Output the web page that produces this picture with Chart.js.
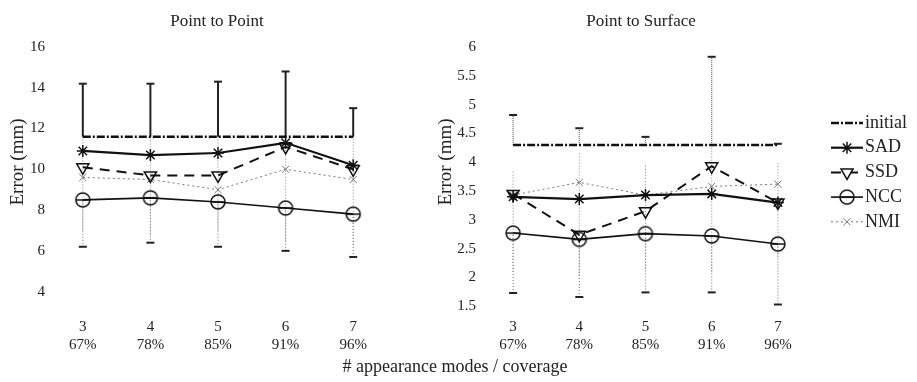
<!DOCTYPE html>
<html>
<head>
<meta charset="utf-8">
<script src="https://cdn.jsdelivr.net/npm/chart.js@4"></script>
<style>
html, body { margin: 0; padding: 0; background: #fff; }
#wrap { position: relative; width: 917px; height: 382px; }
#wrap canvas { position: absolute; left: 0; top: 0; }
</style>
</head>
<body>
<div id="wrap">
  <canvas id="ptpChart" width="917" height="382"></canvas>
  <canvas id="ptsChart" width="917" height="382"></canvas>
</div>
<script>
// categorias del eje x (modos de apariencia / cobertura)
const categories = ["3", "4", "5", "6", "7"];
const coverage = ["67%", "78%", "85%", "91%", "96%"];
const seriesNames = ["initial", "SAD", "SSD", "NCC", "NMI"];

// Point to Point (mm)
const ptpInitial = [11.6, 11.6, 11.6, 11.6, 11.6];
const ptpSAD = [10.9, 10.7, 10.8, 11.3, 10.2];
const ptpSSD = [10.1, 9.7, 9.7, 11.1, 10.0];
const ptpNCC = [8.5, 8.6, 8.4, 8.1, 7.8];
const ptpNMI = [9.6, 9.5, 9.0, 10.0, 9.5];
const ptpInitialHigh = [14.2, 14.2, 14.3, 14.8, 13.0];
const ptpNCCLow = [6.2, 6.4, 6.2, 6.0, 5.7];
const ptpNMILow = [7.0, 6.8, 7.0, 6.5, 6.3];
const ptpNMIHigh = [12.8, 12.3, 12.0, 12.5, 12.3];
const ptpTicks = [4, 6, 8, 10, 12, 14, 16];

// Point to Surface (mm)
const ptsInitial = [4.3, 4.3, 4.3, 4.3, 4.3];
const ptsSAD = [3.4, 3.36, 3.43, 3.45, 3.3];
const ptsSSD = [3.45, 2.74, 3.15, 3.93, 3.3];
const ptsNCC = [2.77, 2.66, 2.76, 2.72, 2.58];
const ptsNMI = [3.43, 3.65, 3.43, 3.58, 3.62];
const ptsInitialHigh = [4.82, 4.59, 4.44, 5.83, 4.32];
const ptsNCCLow = [1.73, 1.66, 1.74, 1.74, 1.53];
const ptsNMILow = [2.1, 2.05, 2.15, 2.1, 2.35];
const ptsNMIHigh = [3.85, 4.15, 3.95, 4.3, 4.0];
const ptsTicks = [1.5, 2, 2.5, 3, 3.5, 4, 4.5, 5, 5.5, 6];

const FONT = "'Liberation Serif', 'DejaVu Serif', serif";
Chart.defaults.font.family = FONT;
Chart.defaults.font.size = 15;
Chart.defaults.color = "#222";

// marcador NCC: circulo con linea horizontal
function nccMarker() {
    const c = document.createElement("canvas");
    c.width = 18; c.height = 18;
    const g = c.getContext("2d");
    g.strokeStyle = "#111";
    g.lineWidth = 1.5;
    g.beginPath();
    g.arc(9, 9, 7, 0, Math.PI * 2);
    g.stroke();
    g.beginPath();
    g.moveTo(2, 9); g.lineTo(16, 9);
    g.stroke();
    return c;
}
const nccImg = nccMarker();

function buildDatasets(vals) {
    return [
        { label: seriesNames[0], data: vals[0], borderColor: "#111", borderWidth: 2.5,
          borderDash: [8, 2, 2, 2], pointRadius: 0 },
        { label: seriesNames[1], data: vals[1], borderColor: "#111", borderWidth: 2.2,
          pointStyle: "star", pointRadius: 6, pointBorderWidth: 1.5, pointBorderColor: "#111" },
        { label: seriesNames[2], data: vals[2], borderColor: "#111", borderWidth: 2,
          borderDash: [10, 7], pointStyle: "triangle", rotation: 180, pointRadius: 7,
          pointBorderWidth: 1.5, pointBorderColor: "#111", pointBackgroundColor: "rgba(255,255,255,0)" },
        { label: seriesNames[3], data: vals[3], borderColor: "#111", borderWidth: 1.6,
          pointStyle: nccImg, pointRadius: 8 },
        { label: seriesNames[4], data: vals[4], borderColor: "#777", borderWidth: 1,
          borderDash: [2, 3], pointStyle: "crossRot", pointRadius: 5, pointBorderWidth: 1,
          pointBorderColor: "#777" }
    ];
}

// plugin: barras de error, titulos y leyenda
const decor = {
    id: "decor",
    beforeDatasetsDraw(chart) {
        const o = chart.options.plugins.decor;
        const ctx = chart.ctx, xs = chart.scales.x, ys = chart.scales.y;
        ctx.save();
        for (const e of o.errors) {
            for (let i = 0; i < e.lo.length; i++) {
                const x = xs.getPixelForValue(i);
                const y1 = ys.getPixelForValue(e.lo[i]);
                const y2 = ys.getPixelForValue(e.hi[i]);
                ctx.strokeStyle = e.color;
                ctx.lineWidth = e.width;
                ctx.setLineDash(e.dash);
                ctx.beginPath(); ctx.moveTo(x, y1); ctx.lineTo(x, y2); ctx.stroke();
                ctx.setLineDash([]);
                ctx.lineWidth = 2;
                ctx.strokeStyle = "#222";
                if (e.capLo) { ctx.beginPath(); ctx.moveTo(x - 4, y1); ctx.lineTo(x + 4, y1); ctx.stroke(); }
                if (e.capHi) { ctx.beginPath(); ctx.moveTo(x - 4, y2); ctx.lineTo(x + 4, y2); ctx.stroke(); }
            }
        }
        ctx.restore();
    },
    afterDraw(chart) {
        const o = chart.options.plugins.decor;
        const ctx = chart.ctx;
        ctx.save();
        ctx.fillStyle = "#222";
        ctx.textAlign = "center";
        ctx.textBaseline = "middle";
        ctx.font = "17px " + FONT;
        ctx.fillText(o.title, o.titleX, 22);
        ctx.save();
        ctx.translate(o.yTitleX, 162);
        ctx.rotate(-Math.PI / 2);
        ctx.font = "19px " + FONT;
        ctx.fillText("Error (mm)", 0, 0);
        ctx.restore();
        if (o.xTitle) {
            ctx.font = "18px " + FONT;
            ctx.fillText(o.xTitle, 455, 367);
        }
        if (o.legend) {
            chart.data.datasets.forEach((d, i) => {
                const y = 123 + i * 24.7;
                ctx.strokeStyle = d.borderColor;
                ctx.lineWidth = d.borderWidth;
                ctx.setLineDash(d.borderDash || []);
                ctx.beginPath(); ctx.moveTo(831, y); ctx.lineTo(863, y); ctx.stroke();
                ctx.setLineDash([]);
                if (d.pointRadius) {
                    ctx.strokeStyle = d.pointBorderColor || d.borderColor;
                    ctx.fillStyle = "#fff";
                    ctx.lineWidth = d.pointBorderWidth || 1;
                    Chart.helpers.drawPoint(ctx, {
                        pointStyle: d.pointStyle, rotation: d.rotation || 0,
                        radius: d.pointRadius, borderWidth: d.pointBorderWidth || 1
                    }, 847, y);
                }
                ctx.fillStyle = "#222";
                ctx.textAlign = "left";
                ctx.font = "18px " + FONT;
                ctx.fillText(d.label, 865, y);
            });
        }
        ctx.restore();
    }
};

function makeChart(id, vals, ticks, yMin, yMax, padding, decorOpts) {
    return new Chart(document.getElementById(id).getContext("2d"), {
        type: "line",
        data: {
            labels: categories.map((c, i) => [c, coverage[i]]),
            datasets: buildDatasets(vals)
        },
        options: {
            responsive: false,
            animation: false,
            layout: { padding: padding },
            plugins: { legend: { display: false }, tooltip: { enabled: false }, decor: decorOpts },
            elements: { line: { tension: 0 } },
            scales: {
                x: {
                    offset: true,
                    grid: { display: false, drawTicks: false },
                    border: { display: false },
                    ticks: { padding: 6, maxRotation: 0 },
                    afterFit: s => { s.height = 40; }
                },
                y: {
                    min: yMin, max: yMax,
                    grid: { display: false, drawTicks: false },
                    border: { display: false },
                    ticks: { padding: 4, callback: v => String(v) },
                    afterBuildTicks: s => { s.ticks = ticks.map(v => ({ value: v })); },
                    afterFit: s => { s.width = 40; }
                }
            }
        },
        plugins: [decor]
    });
}

makeChart("ptpChart", [ptpInitial, ptpSAD, ptpSSD, ptpNCC, ptpNMI], ptpTicks, 3, 16,
    { left: 9, right: 530, top: 47, bottom: 30 },
    {
        title: "Point to Point", titleX: 217, yTitleX: 18,
        xTitle: "# appearance modes / coverage",
        errors: [
            { lo: ptpNMILow, hi: ptpNMIHigh, color: "#888", width: 1, dash: [1, 2], capLo: false, capHi: false },
            { lo: ptpNCCLow, hi: ptpNCC, color: "#888", width: 1.2, dash: [1, 2], capLo: true, capHi: false },
            { lo: ptpInitial, hi: ptpInitialHigh, color: "#222", width: 2, dash: [], capLo: false, capHi: true }
        ]
    });

makeChart("ptsChart", [ptsInitial, ptsSAD, ptsSSD, ptsNCC, ptsNMI], ptsTicks, 1.4, 6,
    { left: 440, right: 106, top: 47, bottom: 30 },
    {
        title: "Point to Surface", titleX: 641, yTitleX: 446, legend: true,
        errors: [
            { lo: ptsNMILow, hi: ptsNMIHigh, color: "#888", width: 1, dash: [1, 2], capLo: false, capHi: false },
            { lo: ptsNCCLow, hi: ptsNCC, color: "#888", width: 1.2, dash: [1, 2], capLo: true, capHi: false },
            { lo: ptsInitial, hi: ptsInitialHigh, color: "#666", width: 1.2, dash: [1, 1], capLo: false, capHi: true }
        ]
    });
</script>
</body>
</html>
